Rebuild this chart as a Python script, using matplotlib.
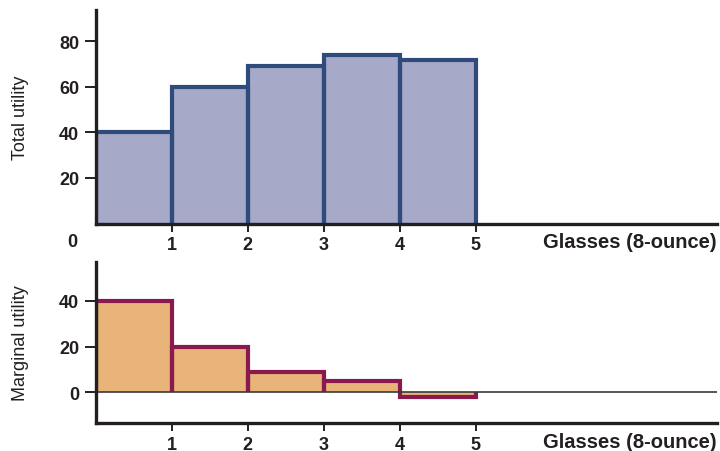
import matplotlib.pyplot as plt

glasses = [1, 2, 3, 4, 5]
total_utility = [40, 60, 69, 74, 72]
marginal_utility = [40, 20, 9, 5, -2]
total_ticks = [20, 40, 60, 80]
marginal_ticks = [0, 20, 40]
xlabel = "Glasses (8-ounce)"

plt.rcParams['font.family'] = ['Liberation Sans', 'DejaVu Sans']
ink = '#231f20'
fs = 13

fig = plt.figure(figsize=(7.2, 4.52), dpi=100)
ax1 = fig.add_axes([0.1333, 0.5033, 0.8625, 0.4724])
ax2 = fig.add_axes([0.1333, 0.0619, 0.8625, 0.3562])

lefts = [g - 1 for g in glasses]


def outlined_bars(ax, values, fill, edge):
    # fill without edges, then draw the three visible sides of each bar
    ax.bar(lefts, values, width=1, align='edge', color=fill, linewidth=0,
           zorder=2)
    for l, v in zip(lefts, values):
        ax.plot([l, l, l + 1, l + 1], [0, v, v, 0], color=edge, linewidth=3,
                solid_joinstyle='miter', solid_capstyle='butt', zorder=3)


outlined_bars(ax1, total_utility, '#a6a9c8', '#2f4b7c')
outlined_bars(ax2, marginal_utility, '#e8b479', '#8a1a4d')
ax2.axhline(0, color='#3a3a3a', linewidth=1.2, zorder=4)

ax1.set_ylim(0, 93.8)
ax2.set_ylim(-13.4, 57)
ax1.set_yticks(total_ticks)
ax2.set_yticks(marginal_ticks)
ax1.set_ylabel("Total utility", fontsize=fs, color=ink, labelpad=22)
ax2.set_ylabel("Marginal utility", fontsize=fs, color=ink, labelpad=22)

for ax in (ax1, ax2):
    ax.set_xlim(0, 8.18)
    ax.set_xticks(glasses)
    for s in ('top', 'right'):
        ax.spines[s].set_visible(False)
    for s in ('left', 'bottom'):
        ax.spines[s].set_linewidth(2.4)
        ax.spines[s].set_color(ink)
        ax.spines[s].set_zorder(5)
    ax.tick_params(axis='y', length=8, width=1.4, color=ink, pad=4,
                   labelsize=fs, labelcolor=ink)
    ax.tick_params(axis='x', length=6, width=1.4, color=ink, pad=3,
                   labelsize=fs, labelcolor=ink)
    for lab in ax.get_xticklabels() + ax.get_yticklabels():
        lab.set_fontweight('bold')
    ax.text(1.0, -0.042 * 0.4724 / ax.get_position().height, xlabel,
            transform=ax.transAxes, ha='right', va='top', fontsize=14.5,
            fontweight='bold', color=ink)

ax1.text(-0.03, -0.045, "0", transform=ax1.transAxes, ha='right', va='top',
         fontsize=fs, fontweight='bold', color=ink)

fig.savefig('out.png', dpi=100)
